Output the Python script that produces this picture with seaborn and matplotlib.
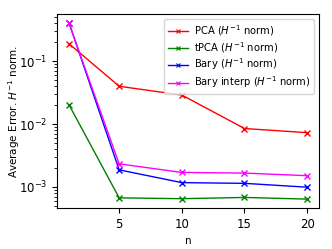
import matplotlib
matplotlib.use("Agg")
import matplotlib.pyplot as plt
import pandas as pd
import seaborn as sns

n_values = [1, 5, 10, 15, 20]
pca_err = [0.19, 0.040, 0.029, 0.0085, 0.0073]
tpca_err = [0.0203, 0.00067, 0.00065, 0.00068, 0.00064]
bary_err = [0.41, 0.00187, 0.00117, 0.00114, 0.00099]
bary_interp_err = [0.40, 0.00233, 0.00170, 0.00166, 0.00151]

labels = [
    r"PCA ($H^{-1}$ norm)",
    r"tPCA ($H^{-1}$ norm)",
    r"Bary ($H^{-1}$ norm)",
    r"Bary interp ($H^{-1}$ norm)",
]
colors = ["red", "green", "blue", "magenta"]

frames = []
for label, err in zip(labels, [pca_err, tpca_err, bary_err, bary_interp_err]):
    frames.append(pd.DataFrame({"n": n_values, "error": err, "method": label}))
df = pd.concat(frames, ignore_index=True)

fig, ax = plt.subplots(figsize=(3.32, 2.49), dpi=100)
sns.lineplot(
    data=df,
    x="n",
    y="error",
    hue="method",
    palette=colors,
    marker="x",
    markersize=4,
    linewidth=1,
    ax=ax,
)
# seaborn paints marker edges white, which hides "x" markers
for line in ax.lines:
    line.set_markeredgecolor(line.get_color())
    line.set_markeredgewidth(1)

ax.set_yscale("log")
ax.set_xticks([5, 10, 15, 20])
ax.set_xlabel("n", fontsize=7.5)
ax.set_ylabel(r"Average Error. $H^{-1}$ norm.", fontsize=7.5)
ax.yaxis.set_label_coords(-0.135, 0.5)
ax.tick_params(labelsize=8.5)
leg = ax.legend(title=None, fontsize=7.2, loc="upper right", labelspacing=0.2,
                handlelength=2.0, handletextpad=0.6)
for h in leg.legend_handles:
    h.set_markeredgecolor(h.get_color())
    h.set_markeredgewidth(0.8)
    h.set_markersize(3.5)
fig.subplots_adjust(left=0.172, right=0.961, top=0.944, bottom=0.165)
fig.savefig("out.png", dpi=100)
plt.close(fig)
